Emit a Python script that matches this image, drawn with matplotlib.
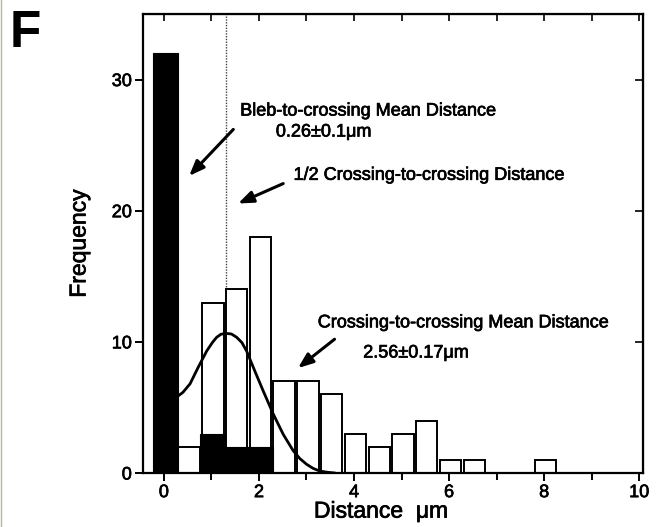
import matplotlib
matplotlib.use("Agg")
import matplotlib.pyplot as plt
from matplotlib.lines import Line2D
import matplotlib.patheffects as pe

plt.rcParams['font.family'] = ['Liberation Sans', 'DejaVu Sans']

# Crossing-to-crossing distances (white bars)
white_x = [0.5, 1.0, 1.5, 2.0, 2.5, 3.0, 3.5, 4.0, 4.5, 5.0, 5.5, 6.0, 6.5, 8.0]
white_h = [2, 13, 14, 18, 7, 7, 6, 3, 2, 3, 4, 1, 1, 1]
# Bleb-to-crossing distances (black bars)
black_x = [0.0, 1.0, 1.5, 2.0]
black_h = [32, 3, 2, 2]
# Fitted curve
curve_x = [0.27, 0.40, 0.55, 0.72, 0.90, 1.02, 1.11, 1.20, 1.30, 1.42, 1.53, 1.64, 1.74, 1.91,
           2.09, 2.30, 2.51, 2.72, 2.86, 3.0, 3.14, 3.28, 3.45, 3.6]
curve_y = [5.8, 6.15, 6.8, 8.05, 9.3, 9.95, 10.35, 10.58, 10.65, 10.6, 10.35, 9.95, 9.3, 7.8,
           6.25, 4.5, 2.95, 1.7, 1.1, 0.67, 0.35, 0.15, 0.05, 0.0]
half_cc = 1.3

xticks = [0, 2, 4, 6, 8, 10]
yticks = [0, 10, 20, 30]

stroke = [pe.withStroke(linewidth=0.5, foreground='black')]

fig = plt.figure(figsize=(6.6, 5.27), dpi=100)
ax = fig.add_axes([143/660, 1-473/527, 500/660, (473-14)/527])

ax.axvline(half_cc, color='#444444', lw=1.0, ls=(0, (1, 1)), zorder=1)
ax.bar([x + 0.03 for x in white_x], white_h, width=0.45, color='white',
       edgecolor='black', linewidth=1.4, zorder=2)
ax.bar([x + 0.03 for x in black_x], black_h, width=0.53, color='black',
       edgecolor='black', linewidth=0.8, zorder=3)
ax.plot(curve_x, curve_y, color='black', lw=2.0, zorder=4,
        solid_capstyle='round', solid_joinstyle='round')

ax.set_xlim(-0.44, 10.08)
ax.set_ylim(0, 35)
ax.set_xticks(xticks)
ax.set_xticks([1, 3, 5, 7, 9], minor=True)
ax.set_yticks(yticks)
ax.tick_params(axis='both', which='major', labelsize=13, length=6, width=1.4,
               direction='out', pad=2)
ax.tick_params(axis='x', which='minor', length=5, width=1.4, direction='out')
for lab in ax.get_xticklabels() + ax.get_yticklabels():
    lab.set_path_effects(stroke)
for s in ax.spines.values():
    s.set_linewidth(1.6)

# top and right inward ticks
top = ax.secondary_xaxis('top')
top.set_xticks(list(range(0, 11)))
top.tick_params(direction='in', length=5, width=1.2, labeltop=False)
top.set_xticklabels([])
right = ax.secondary_yaxis('right')
right.set_yticks(yticks)
right.tick_params(direction='in', length=6, width=1.2)
right.set_yticklabels([])

xl = ax.set_xlabel('Distance  μm', fontsize=16.5, labelpad=0)
ax.xaxis.set_label_coords(0.476, -0.058, transform=ax.transAxes)
yl = ax.set_ylabel('Frequency', fontsize=16.5)
ax.yaxis.set_label_coords(-0.105, 0.5, transform=ax.transAxes)
xl.set_path_effects(stroke)
yl.set_path_effects(stroke)

fs = 13
texts = [
    (4.29, 27.6, 'Bleb-to-crossing Mean Distance'),
    (3.36, 26.0, '0.26±0.1μm'),
    (5.57, 22.7, '1/2 Crossing-to-crossing Distance'),
    (6.29, 11.45, 'Crossing-to-crossing Mean Distance'),
    (5.30, 9.15, '2.56±0.17μm'),
]
for tx, ty, s in texts:
    ax.text(tx, ty, s, fontsize=fs, ha='center', va='center', path_effects=stroke)

ap = dict(arrowstyle='-|>,head_length=0.9,head_width=0.35', lw=2.2, color='black',
          shrinkA=0, shrinkB=0)
ax.annotate('', xy=(0.53, 22.65), xytext=(1.46, 26.2), arrowprops=ap, zorder=5)
ax.annotate('', xy=(1.56, 20.55), xytext=(2.51, 22.07), arrowprops=ap, zorder=5)
ax.annotate('', xy=(2.82, 8.0), xytext=(3.59, 10.2), arrowprops=ap, zorder=5)

fig.text(10/660, 1-47/527, 'F', fontsize=37, fontweight='bold', ha='left', va='baseline')
fig.add_artist(Line2D([0.002, 0.002], [0, 1], transform=fig.transFigure,
                      color='#b8b8a0', lw=1.0))

fig.savefig('out.png', dpi=100)
